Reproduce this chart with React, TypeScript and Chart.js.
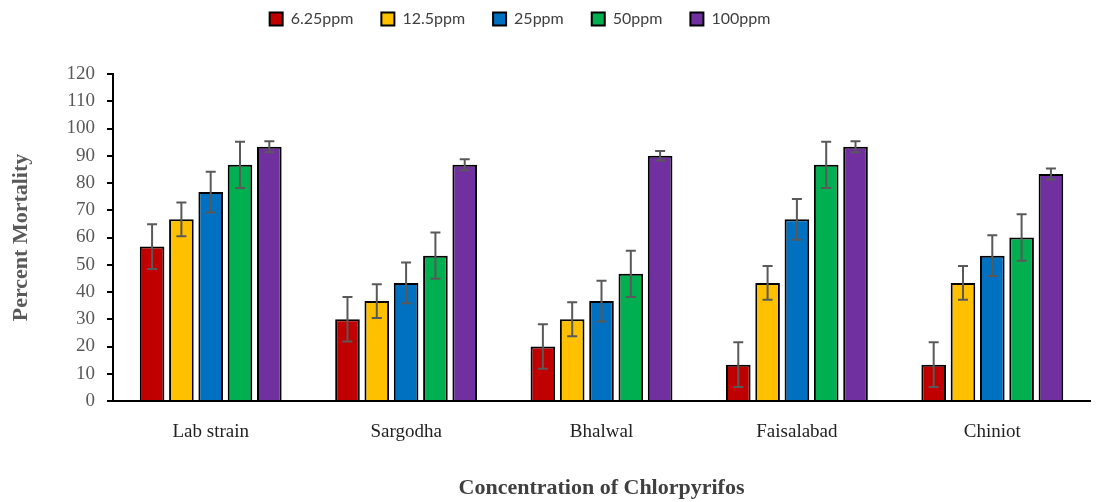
import React, { useEffect, useRef } from "react";
import { Chart, registerables } from "chart.js";

Chart.register(...registerables);

const categories = ["Lab strain", "Sargodha", "Bhalwal", "Faisalabad", "Chiniot"];
const seriesNames = ["6.25ppm", "12.5ppm", "25ppm", "50ppm", "100ppm"];
const colors = ["#C00000", "#FFC000", "#0070C0", "#00B050", "#7030A0"];

const v625 = [56.67, 30, 20, 13.33, 13.33];
const v125 = [66.67, 36.67, 30, 43.33, 43.33];
const v25 = [76.67, 43.33, 36.67, 66.67, 53.33];
const v50 = [86.67, 53.33, 46.67, 86.67, 60];
const v100 = [93.33, 86.67, 90, 93.33, 83.33];

const e625 = [8.2, 8.2, 8.2, 8.2, 8.2];
const e125 = [6.2, 6.2, 6.2, 6.2, 6.2];
const e25 = [7.5, 7.5, 7.5, 7.5, 7.5];
const e50 = [8.5, 8.5, 8.5, 8.5, 8.5];
const e100 = [2, 2, 1.7, 2, 2];

const values = [v625, v125, v25, v50, v100];
const errors = [e625, e125, e25, e50, e100];

const yTicks = [0, 10, 20, 30, 40, 50, 60, 70, 80, 90, 100, 110, 120];

const errorBarPlugin = {
  id: "errorBars",
  afterDatasetsDraw(chart: any) {
    const ctx = chart.ctx;
    const yScale = chart.scales.y;
    ctx.save();
    ctx.strokeStyle = "#595959";
    ctx.lineWidth = 2;
    chart.data.datasets.forEach((ds: any, di: number) => {
      const meta = chart.getDatasetMeta(di);
      meta.data.forEach((el: any, i: number) => {
        const v = ds.data[i];
        const e = errors[di][i];
        const yTop = yScale.getPixelForValue(v + e);
        const yBot = yScale.getPixelForValue(v - e);
        const x = el.x;
        const cap = 5;
        ctx.beginPath();
        ctx.moveTo(x, yTop);
        ctx.lineTo(x, yBot);
        ctx.moveTo(x - cap, yTop);
        ctx.lineTo(x + cap, yTop);
        ctx.moveTo(x - cap, yBot);
        ctx.lineTo(x + cap, yBot);
        ctx.stroke();
      });
    });
    ctx.restore();
  },
};

// Adjust legend box: taller block below labels, shifted slightly left
const legendLayoutPlugin = {
  id: "legendLayout",
  beforeLayout(chart: any) {
    const lg = chart.legend;
    if (lg && !lg.__patched) {
      const orig = lg.fit.bind(lg);
      lg.fit = function () {
        orig();
        this.height = 91;
      };
      lg.__patched = true;
    }
  },
  afterLayout(chart: any) {
    const lg = chart.legend;
    if (lg) {
      lg.right -= 58;
    }
  },
};

export default function App() {
  const ref = useRef<HTMLCanvasElement>(null);
  useEffect(() => {
    if (!ref.current) return;
    const chart = new Chart(ref.current, {
      type: "bar",
      data: {
        labels: categories,
        datasets: seriesNames.map((name, i) => ({
          label: name,
          data: values[i],
          backgroundColor: colors[i],
          borderColor: "#000000",
          borderWidth: 2,
          categoryPercentage: 0.75,
          barPercentage: 0.84,
        })),
      },
      options: {
        responsive: false,
        animation: false,
        layout: { padding: { left: 8, right: 10, top: -17, bottom: 0 } },
        plugins: {
          tooltip: { enabled: false },
          legend: {
            position: "top",
            labels: {
              boxWidth: 13,
              boxHeight: 13,
              padding: 28,
              color: "#404040",
              font: { family: "Lato", size: 16 },
            },
          },
        },
        scales: {
          x: {
            afterFit: (scale: any) => {
              scale.height = 101;
            },
            grid: { display: false, drawTicks: false },
            border: { display: true, color: "#000000", width: 2 },
            ticks: {
              color: "#222222",
              padding: 20,
              font: { family: "Liberation Serif", size: 19 },
            },
            title: {
              display: true,
              text: "Concentration of Chlorpyrifos",
              color: "#404040",
              padding: { top: 30, bottom: 0 },
              font: { family: "Liberation Serif", size: 22, weight: "bold" },
            },
          },
          y: {
            min: 0,
            max: 120,
            afterFit: (scale: any) => {
              scale.width = 105;
            },
            afterBuildTicks: (scale: any) => {
              scale.ticks = yTicks.map((v) => ({ value: v }));
            },
            grid: {
              display: true,
              drawOnChartArea: false,
              drawTicks: true,
              tickLength: 6,
              color: "#000000",
              lineWidth: 2,
            },
            border: { display: true, color: "#000000", width: 2 },
            ticks: {
              color: "#595959",
              padding: 12,
              font: { family: "Liberation Serif", size: 19 },
            },
            title: {
              display: true,
              text: "Percent Mortality",
              color: "#595959",
              padding: { top: 0, bottom: 8 },
              font: { family: "Liberation Serif", size: 22, weight: "bold" },
            },
          },
        },
      },
      plugins: [errorBarPlugin, legendLayoutPlugin],
    } as any);
    return () => chart.destroy();
  }, []);
  return (
    <div style={{ position: "fixed", left: 0, top: 0, width: 1100, height: 502, background: "#fff" }}>
      <canvas ref={ref} width={1100} height={502} />
    </div>
  );
}
